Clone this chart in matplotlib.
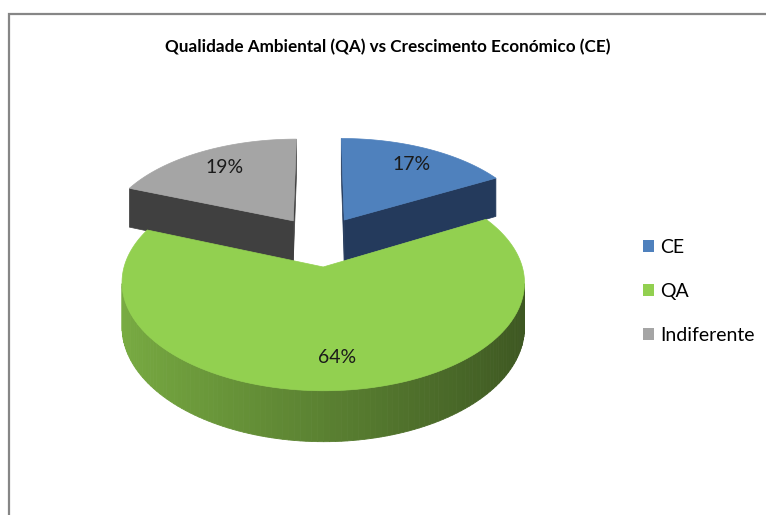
import numpy as np
import matplotlib.pyplot as plt
from matplotlib.patches import Polygon, Rectangle
import matplotlib.colors as mcolors

plt.rcParams['font.family'] = ['Lato', 'DejaVu Sans']

titulo = 'Qualidade Ambiental (QA) vs Crescimento Económico (CE)'
categorias = ['CE', 'QA', 'Indiferente']
percentagens = [17, 64, 19]
cores = ['#4f81bd', '#92d050', '#a5a5a5']
cores_lado = ['#243a5c', '#4d7a2a', '#404040']

# geometria do bolo 3D, em pixeis da figura
cx, cy = 320, 241
rx, ry = 192, 98.4
alt = 42
persp = 0.14
expl = 0.255


def proj(X, Y, Z):
    s = 1.0 / (1 + persp * Y)
    return cx + rx * X * s, cy - ry * Y * s - alt * Z * s


def area(pts):
    x = np.array([p[0] for p in pts])
    y = np.array([p[1] for p in pts])
    return 0.5 * np.sum(x * np.roll(y, -1) - np.roll(x, -1) * y)


def escurecer(cor, f):
    r, g, b = mcolors.to_rgb(cor)
    return (r * f, g * f, b * f)


fig = plt.figure(figsize=(7.66, 5.15), dpi=100)
ax = fig.add_axes([0, 0, 1, 1])
ax.set_xlim(0, 766)
ax.set_ylim(515, 0)
ax.axis('off')

# moldura do grafico
ax.plot([9, 9, 770], [520, 14, 14], color='#868686', lw=1.6, solid_joinstyle='miter')

tot = sum(percentagens)
ang = np.cumsum([0] + percentagens) / tot * 2 * np.pi
fatias = []
for i in range(len(percentagens)):
    a0, a1 = ang[i], ang[i + 1]
    m = (a0 + a1) / 2
    ox, oy = expl * np.sin(m), expl * np.cos(m)
    fatias.append((oy, i, a0, a1, m, ox))

# desenhar do fundo para a frente
fatias.sort(key=lambda f: -f[0])
for oy, i, a0, a1, m, ox in fatias:
    def ponto(t, z, r=1.0):
        return proj(ox + r * np.sin(t), oy + r * np.cos(t), z)

    # parede exterior (curva), em pedacos com sombreado
    ts = np.linspace(a0, a1, 160)
    for t1, t2 in zip(ts[:-1], ts[1:]):
        quad = [ponto(t1, 0), ponto(t2, 0), ponto(t2, -1), ponto(t1, -1)]
        if area(quad) < 0:
            f = 0.62 - 0.21 * np.sin((t1 + t2) / 2)
            c = escurecer(cores[i], f)
            ax.add_patch(Polygon(quad, closed=True, fc=c, ec=c, lw=0.6))

    # paredes radiais
    ct, cb = proj(ox, oy, 0), proj(ox, oy, -1)
    ini = [ct, ponto(a0, 0), ponto(a0, -1), cb]
    fim = [ponto(a1, 0), ct, cb, ponto(a1, -1)]
    for quad in (ini, fim):
        if area(quad) < 0:
            ax.add_patch(Polygon(quad, closed=True, fc=cores_lado[i],
                                 ec=cores_lado[i], lw=0.5))

    # face de cima
    topo = [ct] + [ponto(t, 0) for t in np.linspace(a0, a1, 200)]
    ax.add_patch(Polygon(topo, closed=True, fc=cores[i], ec=cores[i], lw=0.5))

    lx, ly = ponto(m, 0, 0.76)
    ax.text(lx + 3, ly, '%d%%' % percentagens[i], ha='center', va='center',
            fontsize=14, color='#1a1a1a')

ax.text(388, 47, titulo, ha='center', va='center', fontsize=12.3,
        fontweight='bold', color='black')

handles = [Rectangle((0, 0), 1, 1, fc=c, ec='none') for c in cores]
ax.legend(handles, categorias, loc='center left',
          bbox_to_anchor=(643 / 766, 1 - 291.5 / 515), frameon=False,
          fontsize=14, handlelength=0.55, handleheight=0.55,
          handletextpad=0.35, labelspacing=1.4, borderpad=0, borderaxespad=0)

fig.savefig('out.png', dpi=100)
